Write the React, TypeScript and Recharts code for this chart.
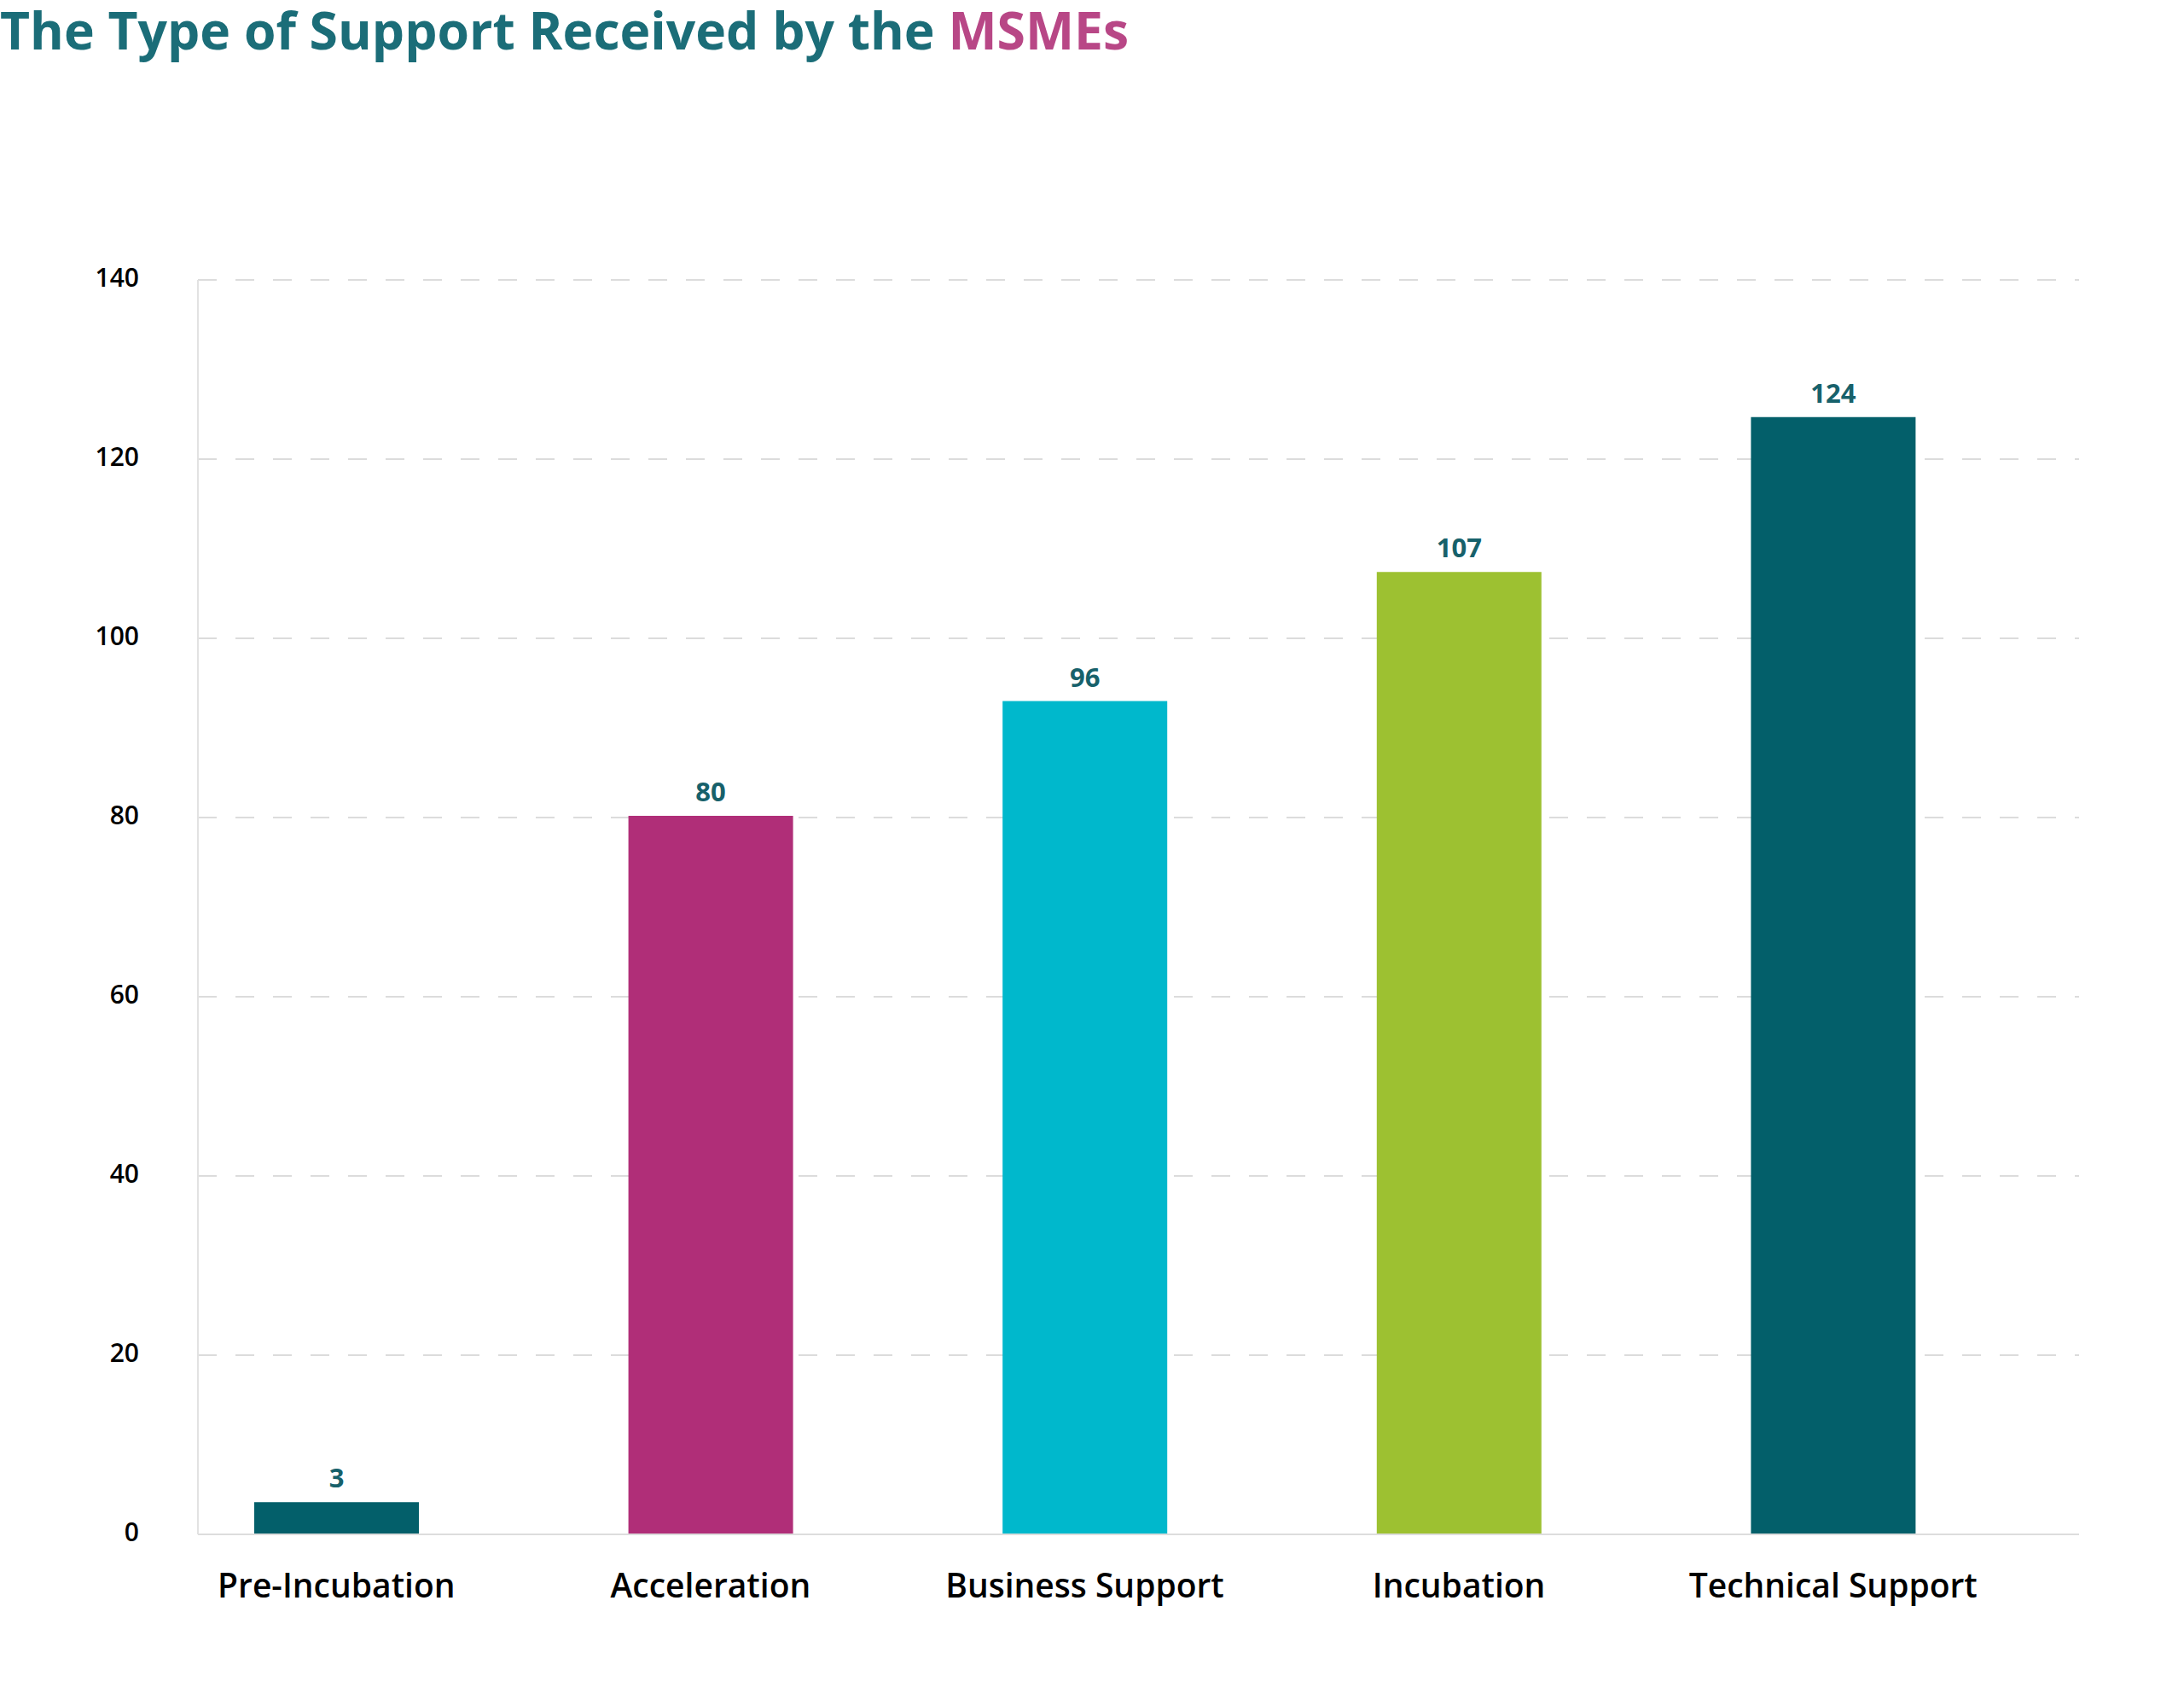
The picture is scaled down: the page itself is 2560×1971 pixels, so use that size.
import React from 'react'
import { BarChart, Bar, XAxis, YAxis, CartesianGrid, Cell, LabelList } from 'recharts'

const categories = ['Pre-Incubation', 'Acceleration', 'Business Support', 'Incubation', 'Technical Support']
// bar heights as drawn in the picture
const barHeights = [3.6, 80.2, 93, 107.4, 124.7]
// values printed above the bars
const valueLabels = ['3', '80', '96', '107', '124']
const barColors = ['#035F6A', '#B02E78', '#00B8CC', '#9DC131', '#035F6A']
const yTicks = [0, 20, 40, 60, 80, 100, 120, 140]

const data = categories.map((name, i) => ({
  name,
  value: barHeights[i],
  label: valueLabels[i],
}))

const FONT = '"Open Sans", sans-serif'

export default function App() {
  return (
    <div style={{ position: 'relative', width: 2560, height: 1971, background: '#fff', fontFamily: FONT }}>
      <style>{'body{margin:0}'}</style>
      <svg width={1400} height={90} style={{ position: 'absolute', left: 0, top: 0, overflow: 'visible' }}>
        <text x={0} y={58} fontFamily={FONT} fontWeight={700} fontSize={60.6} fill="#1B6D78">
          The Type of Support Received by the <tspan fill="#B84786">MSMEs</tspan>
        </text>
      </svg>
      <BarChart
        width={2560}
        height={1971}
        data={data}
        margin={{ top: 328, right: 123, bottom: 53, left: 0 }}
      >
        <CartesianGrid vertical={false} stroke="#dcdcdc" strokeWidth={2} strokeDasharray="22 22" />
        <XAxis
          dataKey="name"
          height={120}
          interval={0}
          padding={{ left: -57, right: 69 }}
          axisLine={{ stroke: '#dddddd', strokeWidth: 2 }}
          tickLine={false}
          tickSize={6}
          tickMargin={40}
          tick={{ fill: '#000', fontSize: 39, fontWeight: 600, fontFamily: FONT }}
        />
        <YAxis
          width={232}
          domain={[0, 140]}
          ticks={yTicks}
          interval={0}
          axisLine={{ stroke: '#e2e2e2', strokeWidth: 2 }}
          tickLine={false}
          tickSize={10}
          tickMargin={59}
          tick={{ fill: '#000', fontSize: 30, fontWeight: 600, fontFamily: FONT, dy: -3 }}
        />
        <Bar dataKey="value" barSize={193} isAnimationActive={false}>
          {data.map((d, i) => (
            <Cell key={d.name} fill={barColors[i]} />
          ))}
          <LabelList
            dataKey="label"
            position="top"
            offset={17}
            fill="#17616B"
            fontSize={31}
            fontWeight={700}
            fontFamily={FONT}
          />
        </Bar>
      </BarChart>
    </div>
  )
}
